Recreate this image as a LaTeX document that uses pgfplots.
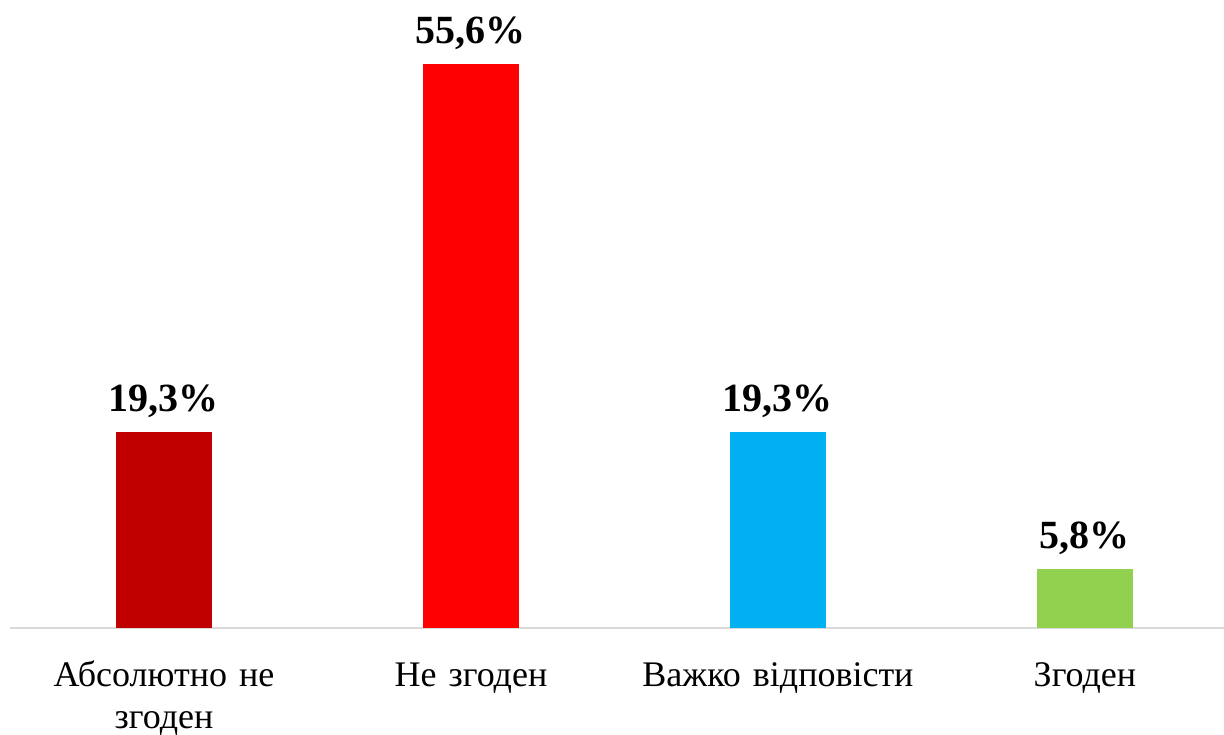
\documentclass[border=0pt]{standalone}
\usepackage{fontspec}
\setmainfont{Liberation Serif}
\usepackage{pgfplots}
\pgfplotsset{compat=1.18}
\definecolor{c1}{HTML}{C00000}
\definecolor{c2}{HTML}{FF0000}
\definecolor{c3}{HTML}{00B0F0}
\definecolor{c4}{HTML}{92D050}
\definecolor{lgray}{HTML}{D9D9D9}
\begin{document}
\begin{tikzpicture}
\begin{axis}[
  at={(0,0)}, anchor=south west,
  scale only axis,
  width=606.75pt, height=304.2pt,
  xmin=-0.5, xmax=3.453, ymin=0, ymax=60,
  enlargelimits=false,
  clip=false,
  hide y axis,
  axis x line*=bottom,
  x axis line style={draw=lgray, line width=1.2pt},
  xtick={0,1,2,3},
  xticklabels={{Абсолютно не\\згоден},{Не згоден},{Важко відповісти},{Згоден}},
  major tick length=0pt,
  xticklabel style={font=\fontsize{18}{21}\selectfont, align=center, text width=150pt, anchor=north, inner sep=0pt, text height=14pt, yshift=-15pt},
  ybar, bar shift=0pt, bar width=48pt,
  nodes near coords={\pgfmathprintnumber[use comma,fixed,fixed zerofill,precision=1,assume math mode=true]{\pgfplotspointmeta}\%},
  every node near coord/.append style={font=\fontsize{20}{24}\selectfont\bfseries, anchor=south, inner sep=0pt, text depth=0pt, yshift=10pt, black},
]
\addplot[fill=c1, draw=none] coordinates {(0,19.3)};
\addplot[fill=c2, draw=none] coordinates {(1,55.6)};
\addplot[fill=c3, draw=none] coordinates {(2,19.3)};
\addplot[fill=c4, draw=none] coordinates {(3,5.8)};
\end{axis}
\pgfresetboundingbox
\path (-5.25pt,-53pt) rectangle (606.75pt,314pt);
\end{tikzpicture}
\end{document}
